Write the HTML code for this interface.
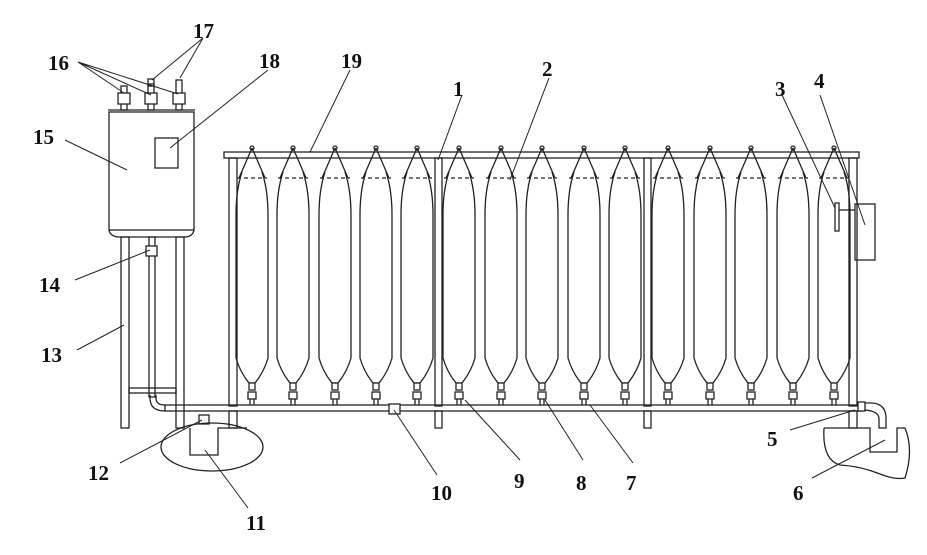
<!DOCTYPE html>
<html><head><meta charset="utf-8"><style>
html,body{margin:0;padding:0;background:#fff;}
svg{display:block;}
text{font-family:"Liberation Serif",serif;font-weight:bold;font-size:21px;fill:#111;}
</style></head><body>
<svg width="927" height="555" viewBox="0 0 927 555" xmlns="http://www.w3.org/2000/svg">
<defs>
<g id="bag" fill="none" stroke="#222" stroke-width="1.3">
<path d="M0,148 L-13,178 M0,148 L13,178"/>
<path d="M-15,178 L15,178" stroke-dasharray="4,3"/>
<path d="M-10,172 Q-16,190 -16,215 L-16,358 Q-12,372 -3,383 L3,383 Q12,372 16,358 L16,215 Q16,190 10,172"/>
<rect x="-3" y="383" width="6" height="7" fill="#fff"/>
<rect x="-4" y="392" width="8" height="7" fill="#fff"/>
<path d="M-2,399 L-2,405 M2,399 L2,405"/>
<circle cx="0" cy="148" r="2"/>
</g>
</defs>
<g fill="none" stroke="#222" stroke-width="1.3">
<rect x="224" y="152" width="635" height="6"/>
<rect x="229" y="158" width="8" height="248"/>
<rect x="435" y="158" width="7" height="248"/>
<rect x="644" y="158" width="7" height="248"/>
<rect x="849" y="158" width="8" height="248"/>
<rect x="229" y="411" width="8" height="17"/>
<rect x="435" y="411" width="7" height="17"/>
<rect x="644" y="411" width="7" height="17"/>
<rect x="849" y="411" width="8" height="17"/>
<rect x="165" y="405" width="697" height="6"/>
<path d="M150,395 L150,398 Q150,411 165,411 M156,395 L156,398 Q156,405 165,405"/>
<rect x="109" y="112" width="85" height="118"/>
<path d="M109,230 Q110,236 118,237 L186,237 Q193,236 194,230"/>
<path d="M108,110 L195,110"/>
<rect x="155" y="138" width="23" height="30"/>
<rect x="121" y="86" width="6" height="24"/><rect x="118" y="93" width="12" height="11" fill="#fff"/>
<rect x="148" y="84" width="6" height="26"/><rect x="145" y="93" width="12" height="11" fill="#fff"/><rect x="148" y="79" width="6" height="7"/>
<rect x="176" y="80" width="6" height="30"/><rect x="173" y="93" width="12" height="11" fill="#fff"/>
<rect x="121" y="237" width="8" height="191"/>
<rect x="176" y="237" width="8" height="191"/>
<rect x="149" y="237" width="6" height="160"/>
<rect x="146" y="246" width="11" height="10" fill="#fff"/>
<rect x="129" y="388" width="47" height="5"/>
<rect x="199" y="415" width="10" height="9"/>
<rect x="389" y="404" width="11" height="10" fill="#fff"/>
<ellipse cx="212" cy="447" rx="51" ry="24"/>
<path d="M190,428 L190,455 L218,455 L218,428 L247,428"/>
<rect x="858" y="402" width="7" height="9" fill="#fff"/>
<path d="M865,403 L872,403 Q886,404 886,418 L886,428 L879,428 L879,418 Q878,411 865,410"/>
<path d="M824,428 L870,428 L870,452 L897,452 L897,428 L905,428 Q914,450 905,478 Q895,480 880,474 Q860,466 840,465 Q822,460 824,428"/>
<rect x="855" y="204" width="20" height="56"/>
<rect x="835" y="203" width="4" height="28"/>
<path d="M839,210 L855,210"/>
</g>
<use href="#bag" x="252"/><use href="#bag" x="293"/><use href="#bag" x="335"/><use href="#bag" x="376"/><use href="#bag" x="417"/>
<use href="#bag" x="459"/><use href="#bag" x="501"/><use href="#bag" x="542"/><use href="#bag" x="584"/><use href="#bag" x="625"/>
<use href="#bag" x="668"/><use href="#bag" x="710"/><use href="#bag" x="751"/><use href="#bag" x="793"/><use href="#bag" x="834"/>
<g stroke="#222" stroke-width="1" fill="none">
<path d="M78,62 L124,93 M78,62 L151,95 M78,62 L178,94"/>
<path d="M203,38 L152,80 M203,38 L180,78"/>
<path d="M268,70 L170,148"/>
<path d="M350,70 L310,152"/>
<path d="M462,95 L438,160"/>
<path d="M549,78 L510,180"/>
<path d="M782,95 L835,208"/>
<path d="M820,95 L865,225"/>
<path d="M65,140 L127,170"/>
<path d="M75,280 L150,250"/>
<path d="M77,350 L124,325"/>
<path d="M120,463 L202,420"/>
<path d="M248,508 L205,450"/>
<path d="M437,475 L394,410"/>
<path d="M520,460 L465,400"/>
<path d="M583,460 L545,400"/>
<path d="M633,463 L590,405"/>
<path d="M790,430 L855,410"/>
<path d="M812,478 L885,440"/>
</g>
<text x="48" y="70">16</text>
<text x="193" y="38">17</text>
<text x="259" y="68">18</text>
<text x="341" y="68">19</text>
<text x="453" y="96">1</text>
<text x="542" y="76">2</text>
<text x="775" y="96">3</text>
<text x="814" y="88">4</text>
<text x="33" y="144">15</text>
<text x="39" y="292">14</text>
<text x="41" y="362">13</text>
<text x="88" y="480">12</text>
<text x="246" y="530">11</text>
<text x="431" y="500">10</text>
<text x="514" y="488">9</text>
<text x="576" y="490">8</text>
<text x="626" y="490">7</text>
<text x="767" y="446">5</text>
<text x="793" y="500">6</text>
</svg>
</body></html>
